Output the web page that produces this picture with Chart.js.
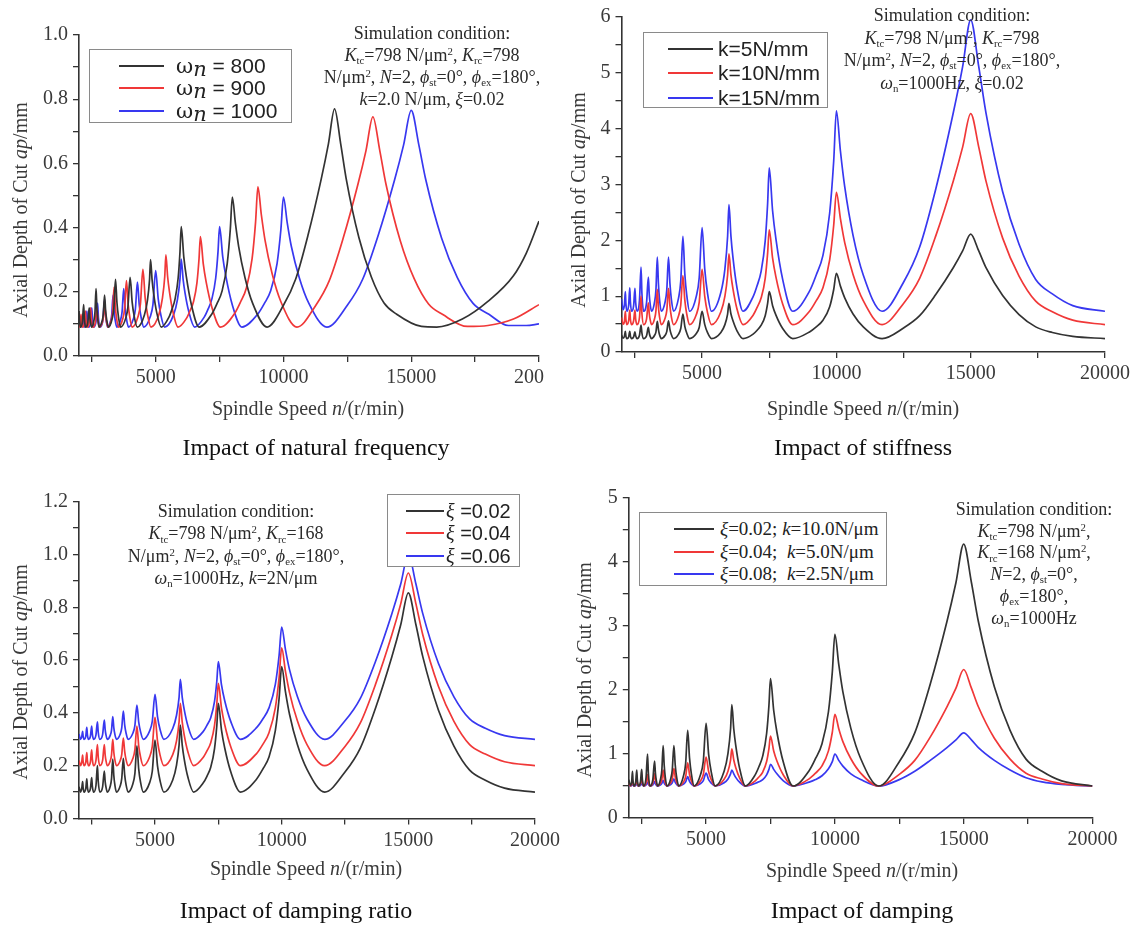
<!DOCTYPE html>
<html><head><meta charset="utf-8">
<script src="https://cdn.jsdelivr.net/npm/chart.js@4.4.0/dist/chart.umd.min.js"></script>
<style>
html,body{margin:0;padding:0;background:#fff;}
body{width:1134px;height:928px;position:relative;overflow:hidden;font-family:'Liberation Serif','Times New Roman',serif;}
.wrap{position:absolute;overflow:hidden;}
.wrap canvas{display:block;}
.sim{position:absolute;text-align:center;font-size:18px;color:#2a2a2a;white-space:nowrap;width:340px;}
sub,sup{font-size:.6em;line-height:0;position:relative;vertical-align:baseline;}
sub{top:.3em;} sup{top:-.55em;}
.cap{position:absolute;font-size:24px;color:#111;text-align:center;width:400px;line-height:28px;white-space:nowrap;}
.xt{position:absolute;font-size:20px;color:#3a3a3a;text-align:center;width:320px;line-height:24px;white-space:nowrap;}
.yt{position:absolute;font-size:20px;color:#3a3a3a;text-align:center;width:320px;line-height:24px;height:24px;transform:rotate(-90deg);white-space:nowrap;}
.leg{position:absolute;background:#fff;border:1px solid #8a8a8a;z-index:5;box-sizing:border-box;}
.row{position:absolute;left:0;height:22px;line-height:22px;white-space:nowrap;width:100%;}
.ln{position:absolute;height:2px;top:10px;}
.rt{position:absolute;top:0;color:#222;}
.sans{font-family:'Liberation Sans',Arial,sans-serif;}
</style></head><body>

<div class="wrap" style="left:0;top:0;width:544px;height:430px;"><canvas id="c1" width="600" height="430" style="width:600px;height:430px"></canvas></div>
<div class="wrap" style="left:570px;top:0;width:564px;height:430px;"><canvas id="c2" width="564" height="430" style="width:564px;height:430px"></canvas></div>
<div class="wrap" style="left:0;top:460px;width:565px;height:440px;"><canvas id="c3" width="565" height="440" style="width:565px;height:440px"></canvas></div>
<div class="wrap" style="left:570px;top:460px;width:564px;height:440px;"><canvas id="c4" width="564" height="440" style="width:564px;height:440px"></canvas></div>

<!-- Panel 1 texts -->
<div class="yt" style="left:-140px;top:198px;">Axial Depth of Cut <i>ap</i>/mm</div>
<div class="xt" style="left:148px;top:396px;">Spindle Speed <i>n</i>/(r/min)</div>
<div class="cap" style="left:116px;top:433px;">Impact of natural frequency</div>
<div class="sim" style="left:262px;top:22px;line-height:22px;">Simulation condition:<br><i>K</i><sub>tc</sub>=798 N/μm<sup>2</sup>, <i>K</i><sub>rc</sub>=798<br>N/μm<sup>2</sup>, <i>N</i>=2, <i>ϕ</i><sub>st</sub>=0°, <i>ϕ</i><sub>ex</sub>=180°,<br><i>k</i>=2.0 N/μm, <i>ξ</i>=0.02</div>
<div class="leg" style="left:89px;top:49px;width:203px;height:74px;">
  <div class="row" style="top:5px;"><div class="ln" style="left:29px;width:45px;background:#333;"></div><span class="rt sans" style="left:86px;font-size:21px;"><span style="font-family:'DejaVu Serif',serif;">ω</span><i style="font-family:'DejaVu Serif',serif;position:relative;top:3px;">n</i> = 800</span></div>
  <div class="row" style="top:27px;"><div class="ln" style="left:29px;width:45px;background:#f03838;"></div><span class="rt sans" style="left:86px;font-size:21px;"><span style="font-family:'DejaVu Serif',serif;">ω</span><i style="font-family:'DejaVu Serif',serif;position:relative;top:3px;">n</i> = 900</span></div>
  <div class="row" style="top:50px;"><div class="ln" style="left:29px;width:45px;background:#3838f0;"></div><span class="rt sans" style="left:86px;font-size:21px;"><span style="font-family:'DejaVu Serif',serif;">ω</span><i style="font-family:'DejaVu Serif',serif;position:relative;top:3px;">n</i> = 1000</span></div>
</div>

<!-- Panel 2 texts -->
<div class="yt" style="left:418px;top:188px;">Axial Depth of Cut <i>ap</i>/mm</div>
<div class="xt" style="left:703px;top:396px;">Spindle Speed <i>n</i>/(r/min)</div>
<div class="cap" style="left:663px;top:433px;">Impact of stiffness</div>
<div class="sim" style="left:782px;top:4px;line-height:22.5px;">Simulation condition:<br><i>K</i><sub>tc</sub>=798 N/μm<sup>2</sup>, <i>K</i><sub>rc</sub>=798<br>N/μm<sup>2</sup>, <i>N</i>=2, <i>ϕ</i><sub>st</sub>=0°, <i>ϕ</i><sub>ex</sub>=180°,<br><i>ω</i><sub>n</sub>=1000Hz, <i>ξ</i>=0.02</div>
<div class="leg" style="left:643px;top:32px;width:185px;height:76px;">
  <div class="row" style="top:5px;"><div class="ln" style="left:24px;width:45px;background:#333;"></div><span class="rt sans" style="left:74px;font-size:21px;">k=5N/mm</span></div>
  <div class="row" style="top:29px;"><div class="ln" style="left:24px;width:45px;background:#f03838;"></div><span class="rt sans" style="left:74px;font-size:21px;">k=10N/mm</span></div>
  <div class="row" style="top:54px;"><div class="ln" style="left:24px;width:45px;background:#3838f0;"></div><span class="rt sans" style="left:74px;font-size:21px;">k=15N/mm</span></div>
</div>

<!-- Panel 3 texts -->
<div class="yt" style="left:-140px;top:660px;">Axial Depth of Cut <i>ap</i>/mm</div>
<div class="xt" style="left:146px;top:856px;">Spindle Speed <i>n</i>/(r/min)</div>
<div class="cap" style="left:96px;top:896px;">Impact of damping ratio</div>
<div class="sim" style="left:66px;top:500px;line-height:22.3px;">Simulation condition:<br><i>K</i><sub>tc</sub>=798 N/μm<sup>2</sup>, <i>K</i><sub>rc</sub>=168<br>N/μm<sup>2</sup>, <i>N</i>=2, <i>ϕ</i><sub>st</sub>=0°, <i>ϕ</i><sub>ex</sub>=180°,<br><i>ω</i><sub>n</sub>=1000Hz, <i>k</i>=2N/μm</div>
<div class="leg" style="left:387px;top:494px;width:133px;height:73px;">
  <div class="row" style="top:5px;"><div class="ln" style="left:18px;width:38px;background:#333;"></div><span class="rt" style="left:58px;font-size:20px;"><i>ξ</i><span class="sans"> =0.02</span></span></div>
  <div class="row" style="top:27px;"><div class="ln" style="left:18px;width:38px;background:#f03838;"></div><span class="rt" style="left:58px;font-size:20px;"><i>ξ</i><span class="sans"> =0.04</span></span></div>
  <div class="row" style="top:50px;"><div class="ln" style="left:18px;width:38px;background:#3838f0;"></div><span class="rt" style="left:58px;font-size:20px;"><i>ξ</i><span class="sans"> =0.06</span></span></div>
</div>

<!-- Panel 4 texts -->
<div class="yt" style="left:424px;top:658px;">Axial Depth of Cut <i>ap</i>/mm</div>
<div class="xt" style="left:702px;top:858px;">Spindle Speed <i>n</i>/(r/min)</div>
<div class="cap" style="left:662px;top:896px;">Impact of damping</div>
<div class="sim" style="left:864px;top:499px;line-height:21.7px;">Simulation condition:<br><i>K</i><sub>tc</sub>=798 N/μm<sup>2</sup>,<br><i>K</i><sub>rc</sub>=168 N/μm<sup>2</sup>,<br><i>N</i>=2, <i>ϕ</i><sub>st</sub>=0°,<br><i>ϕ</i><sub>ex</sub>=180°,<br><i>ω</i><sub>n</sub>=1000Hz</div>
<div class="leg" style="left:639px;top:512px;width:248px;height:74px;">
  <div class="row" style="top:5px;"><div class="ln" style="left:34px;width:40px;background:#333;"></div><span class="rt" style="left:80px;font-size:19px;"><i>ξ</i>=0.02; <i>k</i>=10.0N/μm</span></div>
  <div class="row" style="top:28px;"><div class="ln" style="left:34px;width:40px;background:#f03838;"></div><span class="rt" style="left:80px;font-size:19px;"><i>ξ</i>=0.04;&nbsp; <i>k</i>=5.0N/μm</span></div>
  <div class="row" style="top:50px;"><div class="ln" style="left:34px;width:40px;background:#3838f0;"></div><span class="rt" style="left:80px;font-size:19px;"><i>ξ</i>=0.08;&nbsp; <i>k</i>=2.5N/μm</span></div>
</div>

<script>
// ---------- axis settings ----------
const X_MIN = 2000, X_MAX = 20000;
const xTickValues = [2500, 5000, 7500, 10000, 12500, 15000, 17500, 20000];
const xTickLabelled = [5000, 10000, 15000, 20000];

// ---------- Panel 1: natural frequency (n, ap) ----------
const p1_wn800 = [
[2000,.14],[2022,.11],[2063,.09],[2136,.108],[2182,.16],
[2208,.118],[2258,.09],[2346,.105],[2400,.15],
[2426,.12],[2454,.103],[2494,.09],[2586,.112],[2626,.138],[2667,.21],
[2700,.15],[2733,.116],[2783,.09],[2900,.108],[2950,.13],[3000,.19],
[3043,.14],[3086,.112],[3150,.09],[3300,.117],[3365,.15],[3429,.239],
[3486,.165],[3543,.123],[3629,.09],[3829,.118],[3914,.152],[4000,.245],
[4080,.168],[4160,.124],[4280,.09],[4560,.128],[4680,.174],[4760,.237],[4800,.30],
[4860,.237],[4920,.195],[5040,.136],[5220,.09],[5520,.121],[5640,.146],[5760,.178],[5880,.243],[5952,.325],[6000,.403],
[6100,.309],[6200,.247],[6400,.159],[6700,.09],[7200,.131],[7400,.163],[7600,.203],[7800,.288],[7920,.394],[8000,.495],
[8120,.414],[8248,.341],[8496,.244],[8800,.163],[9360,.09],[10000,.158],[10480,.24],[10960,.376],[11480,.552],[11760,.661],[12000,.77],
[12240,.661],[12456,.552],[12952,.369],[13440,.246],[13936,.165],[14432,.13],[15400,.092],[16000,.09],[17000,.115],[18000,.17],[19000,.25],[19500,.32],[20000,.42]
];
const p1_wn900 = [
[2000,.10],[2040,.09],[2077,.13],
[2098,.106],[2138,.09],[2207,.102],[2250,.14],
[2274,.11],[2321,.09],[2403,.105],[2455,.15],
[2484,.114],[2541,.09],[2639,.105],[2700,.15],
[2730,.12],[2760,.103],[2805,.09],[2910,.104],[2955,.122],[3000,.17],
[3038,.13],[3074,.108],[3131,.09],[3263,.112],[3318,.14],[3375,.215],
[3424,.152],[3471,.117],[3544,.09],[3713,.116],[3785,.148],[3857,.235],
[3921,.163],[3986,.122],[4082,.09],[4307,.122],[4404,.162],[4500,.27],
[4590,.18],[4680,.13],[4815,.09],[5130,.13],[5265,.18],[5355,.247],[5400,.315],
[5468,.247],[5535,.203],[5670,.14],[5873,.09],[6210,.118],[6345,.141],[6480,.169],[6615,.228],[6696,.302],[6750,.372],
[6863,.287],[6975,.231],[7200,.152],[7538,.09],[8100,.134],[8325,.169],[8550,.212],[8775,.304],[8910,.418],[9000,.527],
[9135,.44],[9279,.361],[9558,.256],[9900,.169],[10530,.09],[11250,.156],[11790,.234],[12330,.365],[12915,.535],[13230,.64],[13500,.745],
[13770,.64],[14013,.535],[14571,.359],[15120,.24],[15678,.162],[16236,.129],[17200,.092],[18000,.095],[19000,.115],[20000,.16]
];
const p1_wn1000 = [
[2000,.11],[2060,.09],[2110,.10],[2143,.13],
[2163,.106],[2201,.09],[2267,.103],[2308,.14],
[2331,.11],[2375,.09],[2452,.105],[2500,.15],
[2527,.114],[2579,.09],[2670,.109],[2727,.165],
[2760,.12],[2823,.09],[2932,.111],[3000,.175],
[3033,.133],[3067,.109],[3117,.09],[3233,.108],[3283,.13],[3333,.19],
[3375,.14],[3416,.112],[3479,.09],[3625,.112],[3687,.138],[3750,.21],
[3804,.15],[3857,.116],[3938,.09],[4125,.115],[4206,.146],[4286,.23],
[4357,.16],[4429,.121],[4536,.09],[4786,.122],[4893,.16],[5000,.266],
[5100,.178],[5200,.129],[5350,.09],[5700,.128],[5850,.175],[5950,.238],[6000,.302],
[6075,.238],[6150,.196],[6300,.137],[6525,.09],[6900,.121],[7050,.146],[7200,.178],[7350,.243],[7440,.325],[7500,.403],
[7625,.309],[7750,.247],[8000,.159],[8375,.09],[9000,.131],[9250,.163],[9500,.203],[9750,.288],[9900,.394],[10000,.495],
[10150,.414],[10310,.341],[10620,.244],[11000,.163],[11700,.09],[12500,.158],[13100,.239],[13700,.374],[14350,.549],[14700,.657],[15000,.765],
[15300,.657],[15570,.549],[16190,.367],[16800,.245],[17420,.164],[18040,.13],[18800,.095],[19500,.095],[20000,.10]
];

// ---------- Panel 2: stiffness ----------
const p2_k5 = [
[2000,.30],[2060,.25],[2110,.28],[2143,.37],
[2163,.29],[2201,.24],[2267,.27],[2308,.37],
[2331,.29],[2375,.24],[2452,.27],[2500,.36],
[2527,.29],[2579,.24],[2670,.30],[2727,.48],
[2760,.34],[2823,.24],[2932,.29],[3000,.44],
[3033,.34],[3067,.28],[3117,.24],[3233,.30],[3283,.36],[3333,.55],
[3375,.40],[3416,.31],[3479,.24],[3625,.30],[3687,.37],[3750,.56],
[3804,.40],[3857,.31],[3938,.24],[4125,.32],[4206,.42],[4286,.68],
[4357,.46],[4429,.34],[4536,.24],[4786,.33],[4893,.44],[5000,.73],
[5100,.49],[5200,.35],[5350,.24],[5700,.35],[5850,.49],[5950,.68],[6000,.87],
[6075,.68],[6150,.56],[6300,.38],[6525,.24],[6900,.32],[7050,.39],[7200,.48],[7350,.65],[7440,.87],[7500,1.08],
[7625,.83],[7750,.66],[8000,.42],[8375,.24],[9000,.36],[9250,.45],[9500,.57],[9750,.81],[9900,1.12],[10000,1.41],
[10150,1.18],[10310,.97],[10620,.68],[11000,.45],[11700,.24],[12500,.43],[13100,.65],[13700,1.03],[14350,1.51],[14700,1.81],[15000,2.11],
[15300,1.81],[15570,1.51],[16190,1.01],[16800,.67],[17420,.45],[18040,.35],[18800,.28],[20000,.24]
];
const p2_k10 = [
[2000,.62],[2060,.50],[2110,.55],[2143,.73],
[2163,.59],[2201,.49],[2267,.56],[2308,.75],
[2331,.59],[2375,.49],[2452,.56],[2500,.75],
[2527,.59],[2579,.49],[2670,.62],[2727,1.0],
[2760,.69],[2823,.49],[2932,.59],[3000,.88],
[3033,.69],[3067,.58],[3117,.49],[3233,.60],[3283,.74],[3333,1.12],
[3375,.80],[3416,.63],[3479,.49],[3625,.61],[3687,.75],[3750,1.14],
[3804,.82],[3857,.63],[3938,.49],[4125,.65],[4206,.84],[4286,1.37],
[4357,.93],[4429,.68],[4536,.49],[4786,.67],[4893,.89],[5000,1.48],
[5100,.99],[5200,.71],[5350,.49],[5700,.72],[5850,1.00],[5950,1.38],[6000,1.76],
[6075,1.38],[6150,1.13],[6300,.77],[6525,.49],[6900,.66],[7050,.80],[7200,.97],[7350,1.32],[7440,1.77],[7500,2.19],
[7625,1.68],[7750,1.34],[8000,.86],[8375,.49],[9000,.73],[9250,.92],[9500,1.15],[9750,1.65],[9900,2.27],[10000,2.86],
[10150,2.39],[10310,1.96],[10620,1.39],[11000,.92],[11700,.49],[12500,.87],[13100,1.32],[13700,2.08],[14350,3.06],[14700,3.67],[15000,4.27],
[15300,3.67],[15570,3.06],[16190,2.04],[16800,1.36],[17420,.91],[18040,.72],[18800,.57],[20000,.49]
];
const p2_k15 = [
[2000,.95],[2060,.76],[2110,.85],[2143,1.08],
[2163,.87],[2201,.73],[2267,.84],[2308,1.15],
[2331,.90],[2375,.73],[2452,.83],[2500,1.14],
[2527,.89],[2579,.73],[2670,.93],[2727,1.52],
[2760,1.05],[2823,.73],[2932,.88],[3000,1.34],
[3033,1.03],[3067,.86],[3117,.73],[3233,.90],[3283,1.12],[3333,1.70],
[3375,1.22],[3416,.94],[3479,.73],[3625,.90],[3687,1.12],[3750,1.70],
[3804,1.22],[3857,.94],[3938,.73],[4125,.97],[4206,1.27],[4286,2.07],
[4357,1.40],[4429,1.02],[4536,.73],[4786,1.00],[4893,1.33],[5000,2.23],
[5100,1.48],[5200,1.06],[5350,.73],[5700,1.07],[5850,1.49],[5950,2.07],[6000,2.64],
[6075,2.07],[6150,1.69],[6300,1.15],[6525,.73],[6900,.99],[7050,1.19],[7200,1.45],[7350,1.99],[7440,2.66],[7500,3.30],
[7625,2.53],[7750,2.02],[8000,1.30],[8375,.73],[9000,1.09],[9250,1.38],[9500,1.73],[9750,2.49],[9900,3.42],[10000,4.32],
[10150,3.60],[10310,2.96],[10620,2.09],[11000,1.38],[11700,.73],[12500,1.25],[13100,1.88],[13700,2.92],[14350,4.28],[14700,5.11],[15000,5.95],
[15300,5.11],[15570,4.28],[16190,2.87],[16800,1.93],[17420,1.30],[18040,1.04],[18800,.83],[20000,.73]
];

// ---------- Panel 3: damping ratio ----------
const p3_xi002 = [
[2000,.12],[2060,.10],[2110,.115],[2143,.14],
[2163,.116],[2201,.10],[2267,.113],[2308,.15],
[2331,.12],[2375,.10],[2452,.114],[2500,.155],
[2527,.122],[2579,.10],[2670,.125],[2727,.20],
[2760,.14],[2823,.10],[2932,.12],[3000,.18],
[3033,.14],[3067,.118],[3117,.10],[3233,.122],[3283,.15],[3333,.225],
[3375,.162],[3416,.127],[3479,.10],[3625,.123],[3687,.151],[3750,.228],
[3804,.164],[3857,.128],[3938,.10],[4125,.131],[4206,.17],[4286,.275],
[4357,.187],[4429,.138],[4536,.10],[4786,.135],[4893,.179],[5000,.297],
[5100,.198],[5200,.143],[5350,.10],[5700,.146],[5850,.202],[5950,.278],[6000,.354],
[6075,.278],[6150,.227],[6300,.156],[6525,.10],[6900,.134],[7050,.16],[7200,.194],[7350,.265],[7440,.352],[7500,.436],
[7625,.335],[7750,.268],[8000,.174],[8375,.10],[9000,.148],[9250,.186],[9500,.233],[9750,.333],[9900,.456],[10000,.575],
[10150,.48],[10310,.395],[10620,.28],[11000,.186],[11700,.10],[12500,.176],[13100,.266],[13700,.417],[14350,.613],[14700,.734],[15000,.855],
[15300,.734],[15570,.613],[16190,.41],[16800,.274],[17420,.183],[18040,.145],[18800,.115],[20000,.10]
];
const p3_xi004 = [
[2000,.22],[2060,.20],[2110,.215],[2143,.24],
[2163,.216],[2201,.20],[2267,.213],[2308,.25],
[2331,.22],[2375,.20],[2452,.215],[2500,.26],
[2527,.224],[2579,.20],[2670,.22],[2727,.28],
[2760,.232],[2823,.20],[2932,.22],[3000,.28],
[3033,.24],[3067,.218],[3117,.20],[3233,.218],[3283,.24],[3333,.30],
[3375,.25],[3416,.222],[3479,.20],[3625,.219],[3687,.242],[3750,.305],
[3804,.253],[3857,.223],[3938,.20],[4125,.227],[4206,.26],[4286,.35],
[4357,.275],[4429,.233],[4536,.20],[4786,.233],[4893,.273],[5000,.383],
[5100,.292],[5200,.24],[5350,.20],[5700,.242],[5850,.294],[5950,.365],[6000,.436],
[6075,.365],[6150,.318],[6300,.252],[6525,.20],[6900,.231],[7050,.256],[7200,.287],[7350,.353],[7440,.434],[7500,.512],
[7625,.418],[7750,.356],[8000,.269],[8375,.20],[9000,.245],[9250,.28],[9500,.325],[9750,.419],[9900,.535],[10000,.646],
[10150,.557],[10310,.477],[10620,.37],[11000,.28],[11700,.20],[12500,.273],[13100,.361],[13700,.507],[14350,.696],[14700,.813],[15000,.93],
[15300,.813],[15570,.696],[16190,.50],[16800,.368],[17420,.28],[18040,.244],[18800,.215],[20000,.20]
];
const p3_xi006 = [
[2000,.32],[2060,.30],[2110,.31],[2143,.33],
[2163,.312],[2201,.30],[2267,.311],[2308,.345],
[2331,.318],[2375,.30],[2452,.312],[2500,.35],
[2527,.32],[2579,.30],[2670,.317],[2727,.366],
[2760,.326],[2823,.30],[2932,.318],[3000,.373],
[3033,.337],[3067,.316],[3117,.30],[3233,.315],[3283,.334],[3333,.386],
[3375,.343],[3416,.319],[3479,.30],[3625,.319],[3687,.343],[3750,.407],
[3804,.354],[3857,.324],[3938,.30],[4125,.323],[4206,.352],[4286,.43],
[4357,.365],[4429,.329],[4536,.30],[4786,.331],[4893,.368],[5000,.47],
[5100,.385],[5200,.337],[5350,.30],[5700,.341],[5850,.391],[5950,.459],[6000,.527],
[6075,.459],[6150,.414],[6300,.35],[6525,.30],[6900,.329],[7050,.353],[7200,.382],[7350,.444],[7440,.52],[7500,.594],
[7625,.506],[7750,.447],[8000,.365],[8375,.30],[9000,.343],[9250,.376],[9500,.419],[9750,.508],[9900,.619],[10000,.725],
[10150,.64],[10310,.564],[10620,.462],[11000,.377],[11700,.30],[12500,.37],[13100,.454],[13700,.594],[14350,.776],[14700,.888],[15000,1.0],
[15300,.888],[15570,.776],[16190,.587],[16800,.461],[17420,.377],[18040,.342],[18800,.314],[20000,.30]
];

// ---------- Panel 4: damping ----------
const p4_set1 = [
[2000,.60],[2060,.51],[2110,.56],[2143,.73],
[2163,.59],[2201,.50],[2267,.56],[2308,.75],
[2331,.60],[2375,.50],[2452,.56],[2500,.76],
[2527,.60],[2579,.50],[2670,.63],[2727,1.0],
[2760,.70],[2823,.50],[2932,.60],[3000,.89],
[3033,.70],[3067,.59],[3117,.50],[3233,.61],[3283,.75],[3333,1.13],
[3375,.82],[3416,.64],[3479,.50],[3625,.61],[3687,.75],[3750,1.13],
[3804,.82],[3857,.64],[3938,.50],[4125,.66],[4206,.85],[4286,1.37],
[4357,.94],[4429,.69],[4536,.50],[4786,.68],[4893,.89],[5000,1.48],
[5100,.99],[5200,.72],[5350,.50],[5700,.73],[5850,1.01],[5950,1.39],[6000,1.77],
[6075,1.39],[6150,1.14],[6300,.78],[6525,.50],[6900,.67],[7050,.80],[7200,.97],[7350,1.32],[7440,1.76],[7500,2.18],
[7625,1.68],[7750,1.34],[8000,.87],[8375,.50],[9000,.74],[9250,.93],[9500,1.16],[9750,1.66],[9900,2.28],[10000,2.87],
[10150,2.40],[10310,1.97],[10620,1.40],[11000,.93],[11700,.50],[12500,.88],[13100,1.33],[13700,2.09],[14350,3.07],[14700,3.68],[15000,4.28],
[15300,3.68],[15570,3.07],[16190,2.05],[16800,1.37],[17420,.92],[18040,.73],[18800,.58],[20000,.50]
];
const p4_set2 = [
[2000,.55],[2060,.50],[2110,.53],[2143,.60],
[2163,.54],[2201,.50],[2267,.53],[2308,.62],
[2331,.55],[2375,.50],[2452,.535],[2500,.64],
[2527,.556],[2579,.50],[2670,.545],[2727,.68],
[2760,.572],[2823,.50],[2932,.548],[3000,.69],
[3033,.595],[3067,.542],[3117,.50],[3233,.545],[3283,.60],[3333,.75],
[3375,.625],[3416,.555],[3479,.50],[3625,.549],[3687,.608],[3750,.77],
[3804,.635],[3857,.56],[3938,.50],[4125,.565],[4206,.644],[4286,.86],
[4357,.68],[4429,.58],[4536,.50],[4786,.581],[4893,.68],[5000,.95],
[5100,.725],[5200,.60],[5350,.50],[5700,.604],[5850,.732],[5950,.906],[6000,1.08],
[6075,.906],[6150,.79],[6300,.628],[6525,.50],[6900,.578],[7050,.64],[7200,.718],[7350,.882],[7440,1.085],[7500,1.28],
[7625,1.046],[7750,.89],[8000,.672],[8375,.50],[9000,.612],[9250,.702],[9500,.814],[9750,1.049],[9900,1.34],[10000,1.62],
[10150,1.396],[10310,1.194],[10620,.926],[11000,.702],[11700,.50],[12500,.682],[13100,.90],[13700,1.264],[14350,1.738],[14700,2.029],[15000,2.32],
[15300,2.029],[15570,1.738],[16190,1.246],[16800,.919],[17420,.70],[18040,.609],[18800,.536],[20000,.50]
];
const p4_set3 = [
[2000,.51],[2060,.50],[2110,.51],[2143,.53],
[2163,.515],[2201,.50],[2267,.51],[2308,.54],
[2331,.52],[2375,.50],[2452,.51],[2500,.55],
[2527,.52],[2579,.50],[2670,.515],[2727,.56],
[2760,.525],[2823,.50],[2932,.517],[3000,.57],
[3033,.535],[3067,.515],[3117,.50],[3233,.518],[3283,.54],[3333,.59],
[3375,.545],[3416,.52],[3479,.50],[3625,.522],[3687,.548],[3750,.61],
[3804,.555],[3857,.525],[3938,.50],[4125,.53],[4206,.565],[4286,.645],
[4357,.573],[4429,.532],[4536,.50],[4786,.54],[4893,.585],[5000,.70],
[5100,.60],[5200,.545],[5350,.50],[5700,.55],[5850,.61],[5950,.69],[6000,.75],
[6075,.69],[6150,.635],[6300,.56],[6525,.50],[6900,.54],[7050,.565],[7200,.60],[7350,.675],[7440,.76],[7500,.84],
[7625,.76],[7750,.69],[8000,.58],[8375,.50],[9000,.56],[9250,.60],[9500,.66],[9750,.77],[9900,.88],[10000,1.0],
[10150,.90],[10310,.81],[10620,.69],[11000,.60],[11700,.50],[12500,.60],[13100,.73],[13700,.90],[14350,1.10],[14700,1.22],[15000,1.33],
[15300,1.22],[15570,1.10],[16190,.90],[16800,.75],[17420,.63],[18040,.565],[18800,.525],[20000,.50]
];

// ---------- rendering ----------
const C_K = '#333333', C_R = '#f03838', C_B = '#3838f0';
function series(label, pts, color){
  return {label, data: pts.map(p => ({x:p[0], y:p[1]})), borderColor: color, borderWidth: 1.7,
          pointRadius: 0, fill: false, cubicInterpolationMode: 'monotone'};
}
const tickFont = {family:"'Liberation Serif','Times New Roman',serif", size:20};
function makeChart(id, sets, yMax, yStep, yEvery, yDec, yW, padR, padT, xH){
  new Chart(document.getElementById(id), {
    type: 'line',
    data: {datasets: sets},
    options: {
      responsive: false, animation: false, events: [],
      layout: {padding: {left:0, right:padR, top:padT, bottom:0}},
      plugins: {legend: {display:false}, tooltip: {enabled:false}},
      scales: {
        x: {type:'linear', min:X_MIN, max:X_MAX,
            afterBuildTicks: s => { s.ticks = xTickValues.map(v => ({value: v})); },
            ticks: {autoSkip:false, maxRotation:0, padding:4, color:'#3a3a3a', font:tickFont,
                    callback: v => (xTickLabelled.includes(v) ? String(v) : '')},
            grid: {drawOnChartArea:false, drawTicks:true, tickLength:6, color:'#333', lineWidth:1.3},
            border: {display:true, color:'#333', width:1.6},
            afterFit: s => { s.height = xH; }},
        y: {type:'linear', min:0, max:yMax,
            ticks: {stepSize:yStep, autoSkip:false, padding:5, color:'#3a3a3a', font:tickFont,
                    callback: v => { const k = Math.round(v / yStep); return k % yEvery === 0 ? (k*yStep).toFixed(yDec) : ''; }},
            grid: {drawOnChartArea:false, drawTicks:true, tickLength:6, color:'#333', lineWidth:1.3},
            border: {display:true, color:'#333', width:1.6},
            afterFit: s => { s.width = yW; }}
      }
    }
  });
}

makeChart('c1', [series('ωn = 800', p1_wn800, C_K), series('ωn = 900', p1_wn900, C_R), series('ωn = 1000', p1_wn1000, C_B)],
          1.0, 0.1, 2, 1, 79, 61, 35, 74);
makeChart('c2', [series('k=5N/mm', p2_k5, C_K), series('k=10N/mm', p2_k10, C_R), series('k=15N/mm', p2_k15, C_B)],
          6, 0.5, 2, 0, 51.5, 29, 16, 78);
makeChart('c3', [series('ξ =0.02', p3_xi002, C_K), series('ξ =0.04', p3_xi004, C_R), series('ξ =0.06', p3_xi006, C_B)],
          1.2, 0.1, 2, 1, 79, 30, 41.7, 81.5);
makeChart('c4', [series('ξ=0.02; k=10.0N/μm', p4_set1, C_K), series('ξ=0.04; k=5.0N/μm', p4_set2, C_R), series('ξ=0.08; k=2.5N/μm', p4_set3, C_B)],
          5, 0.5, 2, 0, 58.8, 41.5, 38, 82);
</script>
</body></html>
